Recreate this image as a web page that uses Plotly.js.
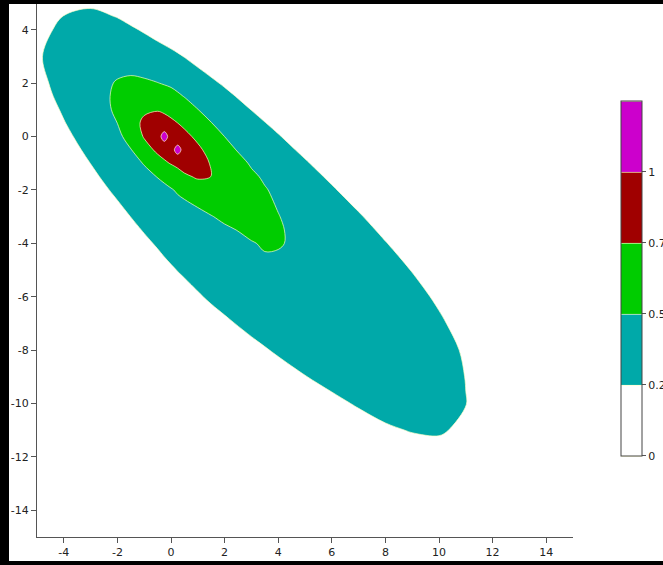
<!DOCTYPE html>
<html><head><meta charset="utf-8">
<script src="https://cdn.plot.ly/plotly-3.0.1.min.js"></script>
<style>
html,body{margin:0;padding:0;overflow:hidden;background:#fff;width:663px;height:565px;}
#chart{position:absolute;left:0;top:0;width:700px;height:565px;}
#frame{position:absolute;left:0;top:0;width:663px;height:565px;box-sizing:border-box;border-style:solid;border-color:#000;border-width:4px 0 4px 9px;pointer-events:none;}
</style></head><body>
<div id="chart"></div><div id="frame"></div>
<script>
// grid columns (x) and rows (y, ascending)
var xs = [-5, -4, -3, -2, -1.5, -1, -0.5, -0.25, 0, 0.25, 0.5, 1, 1.5, 2, 3, 3.5, 4, 5, 6, 7, 8, 9, 10, 11, 12];
var ys = [-12, -11, -10, -9, -8, -7, -6, -5, -4.5, -4, -3.5, -3, -2, -1.5, -1, -0.5, 0, 0.5, 1, 1.5, 2, 3, 4, 4.5, 5];

var rowM12 = [0.005,0.01,0.03,0.05,0.06,0.07,0.08,0.085,0.09,0.095,0.1,0.11,0.12,0.13,0.15,0.155,0.16,0.17,0.175,0.18,0.185,0.1875,0.2,0.19,0.17];
var rowM11 = [0.005,0.02,0.04,0.06,0.07,0.08,0.09,0.095,0.1,0.105,0.11,0.12,0.13,0.14,0.16,0.165,0.17,0.18,0.19,0.2,0.233,0.2565,0.263,0.226,0.19];
var rowM10 = [0.007,0.028,0.049,0.07,0.08,0.09,0.101,0.106,0.111,0.116,0.122,0.132,0.142,0.153,0.173,0.183,0.194,0.205,0.224,0.261,0.2955,0.292,0.271,0.2525,0.185];
var rowM9 = [0.005,0.005,0.022,0.05,0.064,0.078,0.092,0.099,0.106,0.113,0.12,0.134,0.148,0.162,0.19,0.198,0.206,0.247,0.2845,0.302,0.33,0.305,0.3165,0.247,0.18];
var rowM8 = [0.005,0.005,0.03,0.063,0.079,0.096,0.112,0.121,0.129,0.137,0.145,0.162,0.178,0.195,0.2215,0.2425,0.264,0.294,0.327,0.36,0.341,0.308,0.299,0.234,0.17];
var rowM7 = [0.005,0.005,0.04,0.079,0.099,0.118,0.137,0.147,0.157,0.167,0.176,0.196,0.2105,0.233,0.278,0.2995,0.312,0.351,0.39,0.377,0.338,0.3,0.2675,0.204,0.16];
var rowM6 = [0.005,0.018,0.063,0.107,0.13,0.152,0.174,0.186,0.197,0.208,0.215,0.24,0.265,0.2875,0.331,0.354,0.376,0.42,0.413,0.368,0.324,0.288,0.231,0.173,0.145];
var rowM5 = [0.01,0.04,0.09,0.14,0.165,0.19,0.2135,0.2265,0.24,0.2525,0.265,0.29,0.318,0.344,0.396,0.44,0.447,0.451,0.4,0.348,0.301,0.246,0.1885,0.142,0.09];
var rowM45 = [0.02,0.06,0.108,0.156,0.183,0.2095,0.2365,0.2505,0.2635,0.2765,0.29,0.32,0.35,0.375,0.45,0.489,0.485,0.45,0.39,0.33,0.2775,0.2235,0.17,0.12,0.07];
var rowM4 = [0.03,0.08,0.123,0.178,0.206,0.233,0.2595,0.273,0.2865,0.305,0.32,0.355,0.385,0.406,0.489,0.518,0.513,0.457,0.38,0.307,0.254,0.201,0.15,0.1,0.05];
var rowM35 = [0.035,0.09,0.145,0.2,0.2285,0.256,0.283,0.3,0.315,0.335,0.346,0.395,0.42,0.467,0.544,0.561,0.515,0.45,0.36,0.284,0.23,0.177,0.125,0.075,0.03];
var rowM3 = [0.04,0.1,0.165,0.223,0.251,0.2785,0.306,0.33,0.35,0.365,0.372,0.436,0.491,0.541,0.607,0.553,0.506,0.42,0.346,0.259,0.207,0.15,0.1,0.05,0.01];
var rowM2 = [0.1,0.15,0.2115,0.267,0.295,0.375,0.38,0.431,0.481,0.528,0.57,0.624,0.669,0.697,0.565,0.511,0.466,0.38,0.2595,0.2095,0.16,0.11,0.06,0.01,0.005];
var rowM15 = [0.1,0.173,0.2315,0.2885,0.36,0.392,0.513,0.568,0.618,0.665,0.711,0.78,0.749,0.661,0.529,0.478,0.431,0.284,0.2345,0.185,0.135,0.085,0.035,0.005,0.005];
var rowM1 = [0.13,0.1935,0.251,0.3095,0.37,0.521,0.654,0.72,0.762,0.8,0.86,0.84,0.735,0.62,0.482,0.431,0.39,0.2585,0.2095,0.16,0.11,0.06,0.01,0.005,0.005];
var rowM05 = [0.09,0.2105,0.271,0.4,0.491,0.654,0.796,0.83,0.9,1.1,0.9,0.791,0.677,0.574,0.398,0.36,0.281,0.2325,0.184,0.13,0.08,0.03,0.005,0.005,0.005];
var row0 = [0.16,0.2285,0.2895,0.449,0.581,0.769,0.9,1.1,0.9,0.82,0.805,0.706,0.599,0.499,0.36,0.3,0.2555,0.207,0.16,0.11,0.06,0.01,0.005,0.005,0.005];
var rowP05 = [0.182,0.2455,0.307,0.501,0.616,0.812,0.87,0.83,0.792,0.751,0.707,0.609,0.507,0.407,0.276,0.2525,0.229,0.181,0.13,0.08,0.03,0.005,0.005,0.005,0.005];
var rowP1 = [0.196,0.2605,0.382,0.534,0.642,0.703,0.735,0.717,0.685,0.642,0.598,0.505,0.41,0.296,0.249,0.226,0.2025,0.15,0.1,0.05,0.005,0.005,0.005,0.005,0.005];
var rowP15 = [0.212,0.2745,0.391,0.541,0.615,0.608,0.586,0.579,0.563,0.531,0.494,0.401,0.33,0.269,0.2225,0.2,0.18,0.13,0.08,0.03,0.005,0.005,0.005,0.005,0.005];
var rowP2 = [0.22,0.2885,0.388,0.52,0.535,0.527,0.504,0.488,0.47,0.438,0.3045,0.2835,0.2625,0.241,0.1965,0.173,0.15,0.1,0.05,0.005,0.005,0.005,0.005,0.005,0.005];
var rowP3 = [0.236,0.3045,0.374,0.385,0.411,0.38,0.342,0.276,0.2675,0.258,0.248,0.227,0.206,0.18,0.12,0.09,0.06,0.01,0.005,0.005,0.005,0.005,0.005,0.005,0.005];
var rowP4 = [0.216,0.274,0.312,0.277,0.275,0.2305,0.18,0.215,0.206,0.197,0.185,0.15,0.125,0.1,0.05,0.03,0.01,0.005,0.005,0.005,0.005,0.005,0.005,0.005,0.005];
var rowP45 = [0.197,0.252,0.27,0.2467,0.197,0.212,0.2,0.195,0.188,0.18,0.173,0.16,0.14,0.13,0.1,0.085,0.07,0.04,0.01,0.005,0.005,0.005,0.005,0.005,0.005];
var rowP5 = [0.175,0.222,0.236,0.216,0.2,0.19,0.18,0.175,0.17,0.165,0.16,0.15,0.14,0.13,0.1,0.085,0.07,0.04,0.02,0.005,0.005,0.005,0.005,0.005,0.005];

var zRows = [rowM12,rowM11,rowM10,rowM9,rowM8,rowM7,rowM6,rowM5,rowM45,rowM4,rowM35,rowM3,rowM2,rowM15,rowM1,rowM05,row0,rowP05,rowP1,rowP15,rowP2,rowP3,rowP4,rowP45,rowP5];

var levelStart = 0, levelEnd = 1.25, levelStep = 0.25;
var cbTickVals = [0, 0.25, 0.5, 0.75, 1];
var cbTickText = ['0', '0.25', '0.5', '0.75', '1'];
var xTicks = [-4, -2, 0, 2, 4, 6, 8, 10, 12, 14];
var xTickText = ['-4', '-2', '0', '2', '4', '6', '8', '10', '12', '14'];
var yTicks = [-14, -12, -10, -8, -6, -4, -2, 0, 2, 4];
var yTickText = ['-14', '-12', '-10', '-8', '-6', '-4', '-2', '0', '2', '4'];

var cWhite = '#ffffff', cTeal = '#00a9a9', cGreen = '#00cc00', cRed = '#a00000', cMag = '#cc00cc';
var scale = [[0,cWhite],[0.2,cWhite],[0.2,cTeal],[0.4,cTeal],[0.4,cGreen],[0.6,cGreen],[0.6,cRed],[0.8,cRed],[0.8,cMag],[1,cMag]];

var font = {family: 'DejaVu Sans, Verdana, sans-serif', size: 11, color: '#222'};

var trace = {
  type: 'contour',
  x: xs, y: ys, z: zRows,
  autocontour: false,
  contours: {start: levelStart, end: levelEnd, size: levelStep, coloring: 'fill'},
  colorscale: scale,
  zmin: levelStart, zmax: levelEnd, zauto: false,
  line: {color: 'rgba(255,255,200,0.85)', width: 0.8, smoothing: 1},
  hoverinfo: 'skip',
  colorbar: {
    thickness: 21, thicknessmode: 'pixels',
    len: 355, lenmode: 'pixels',
    x: 1.0896, xanchor: 'left', xpad: 0,
    y: 0.4841, yanchor: 'middle', ypad: 0,
    outlinecolor: '#444', outlinewidth: 1,
    tickmode: 'array', tickvals: cbTickVals, ticktext: cbTickText,
    ticks: 'outside', ticklen: 4, tickcolor: '#555',
    tickfont: font
  }
};

var axisCommon = {
  showgrid: false, zeroline: false, showline: true,
  linecolor: '#555', linewidth: 1,
  ticks: 'outside', ticklen: 5, tickcolor: '#555', tickwidth: 1,
  tickfont: font, tickmode: 'array'
};

var layout = {
  width: 700, height: 565,
  margin: {l: 37, r: 127, t: 3, b: 28, pad: 0},
  paper_bgcolor: '#fff', plot_bgcolor: '#fff',
  showlegend: false,
  xaxis: Object.assign({}, axisCommon, {range: [-5, 15], tickvals: xTicks, ticktext: xTickText}),
  yaxis: Object.assign({}, axisCommon, {range: [-15, 5], tickvals: yTicks, ticktext: yTickText})
};

Plotly.newPlot('chart', [trace], layout, {displayModeBar: false, staticPlot: true});
</script></body></html>
